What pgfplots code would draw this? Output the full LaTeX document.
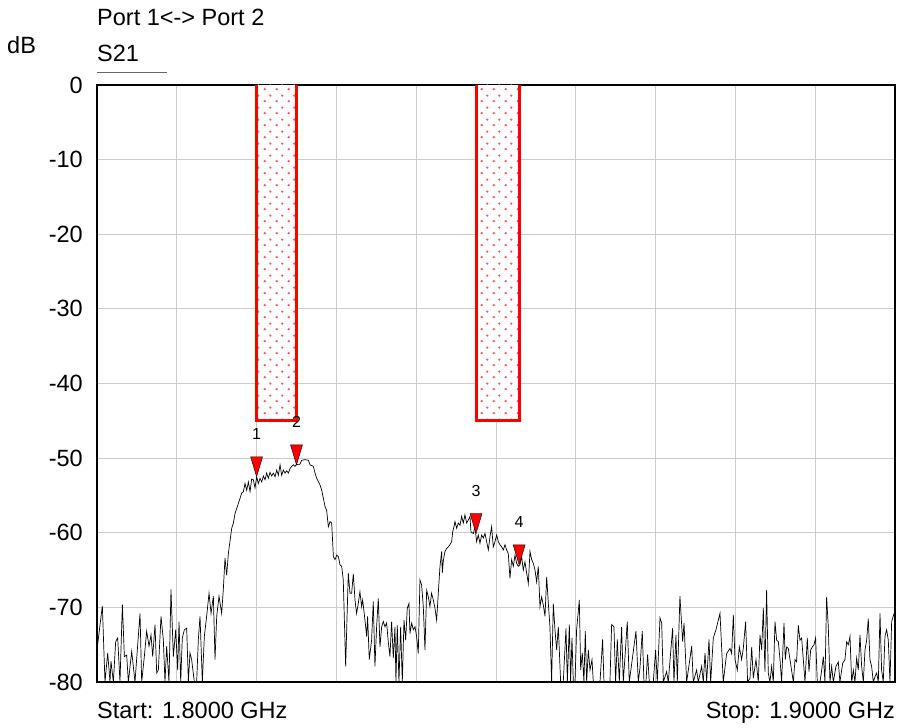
\documentclass[border=0pt]{standalone}
\usepackage{fontspec}
\setmainfont{Liberation Sans}
\usepackage{pgfplots}
\usepackage{pgfplotstable}
\pgfplotsset{compat=1.18}
\usetikzlibrary{patterns.meta}

\tikzdeclarepattern{
  name=reddots,
  type=uncolored,
  bounding box={(0pt,0pt) and (11.4pt,12pt)},
  tile size={(11.4pt,12pt)},
  code={
    \fill (2.85pt,3pt) circle (1.35pt);
    \fill (8.55pt,9pt) circle (1.35pt);
  }
}

\pgfdeclareplotmark{mkr}{%
  \pgfpathmoveto{\pgfqpoint{0pt}{0pt}}%
  \pgfpathlineto{\pgfqpoint{-6pt}{20pt}}%
  \pgfpathlineto{\pgfqpoint{6pt}{20pt}}%
  \pgfpathclose
  \pgfusepathqfillstroke}

\pgfplotstableread{
f db
1800.0 -75.7
1800.67 -69.8
1801.0 -80
1801.34 -76.1
1801.63 -80
1801.75 -77.2
1802.05 -80
1802.34 -74.6
1802.59 -74.1
1802.88 -80
1803.18 -69.6
1803.43 -76.6
1803.72 -76.4
1803.93 -80
1804.35 -75.9
1804.76 -80
1805.39 -70.8
1805.6 -80
1805.93 -76.6
1806.22 -73.2
1806.52 -75.2
1806.77 -73.7
1806.98 -76.6
1807.27 -72.3
1807.48 -78.8
1807.69 -78.4
1808.02 -71.2
1808.31 -74.3
1808.52 -80
1808.73 -75.2
1809.02 -80
1809.27 -67.6
1809.57 -76.6
1809.86 -73.0
1810.11 -78.4
1810.28 -71.9
1810.49 -80
1810.69 -74.1
1810.95 -73.0
1811.24 -72.8
1811.45 -80
1811.65 -76.1
1811.86 -77.0
1812.2 -80
1812.49 -80
1812.7 -74.3
1812.91 -71.2
1813.2 -80
1813.45 -73.9
1813.74 -71.2
1814.04 -68.1
1814.29 -70.8
1814.58 -68.5
1814.79 -77.0
1815.0 -71.2
1815.29 -68.5
1815.62 -70.8
1815.83 -67.6
1816.04 -63.4
1816.25 -65.7
1816.46 -62.8
1816.88 -59.4
1817.09 -58.7
1817.3 -57.4
1817.71 -56.1
1817.92 -55.4
1818.13 -54.7
1818.34 -54.5
1818.55 -53.4
1818.76 -54.3
1818.97 -53.2
1819.18 -54.5
1819.38 -52.8
1819.59 -52.9
1819.8 -54.0
1820.01 -52.5
1820.22 -53.4
1820.43 -52.7
1820.64 -53.2
1820.85 -52.4
1821.06 -52.9
1821.26 -52.0
1821.47 -52.7
1821.68 -51.9
1821.89 -52.4
1822.1 -52.0
1822.31 -52.5
1822.52 -51.6
1822.73 -52.3
1822.94 -50.9
1823.14 -52.3
1823.35 -51.6
1823.56 -52.0
1823.77 -51.7
1823.98 -52.0
1824.19 -51.4
1824.4 -51.1
1824.61 -50.9
1824.81 -51.1
1825.02 -50.8
1825.23 -50.9
1825.44 -50.8
1825.65 -50.3
1826.07 -50.2
1826.49 -50.3
1826.7 -50.9
1827.11 -51.1
1827.32 -52.0
1827.53 -52.7
1827.95 -53.6
1828.16 -54.3
1828.58 -56.5
1828.78 -57.0
1828.99 -59.2
1829.2 -58.5
1829.41 -58.7
1829.62 -63.2
1829.83 -63.6
1830.04 -63.0
1830.25 -63.2
1830.45 -64.3
1830.66 -64.5
1830.86 -66.3
1831.16 -77.9
1831.49 -65.4
1831.7 -68.1
1831.91 -68.1
1832.12 -65.5
1832.33 -69.0
1832.53 -70.8
1832.74 -69.5
1832.95 -67.9
1833.16 -69.9
1833.29 -69.0
1833.58 -71.7
1833.79 -73.9
1833.91 -71.2
1834.12 -77.0
1834.41 -74.4
1834.62 -69.2
1834.83 -77.9
1835.04 -72.6
1835.25 -68.8
1835.46 -75.3
1835.67 -72.6
1835.88 -71.9
1836.09 -72.6
1836.29 -72.1
1836.5 -74.6
1836.71 -76.6
1836.92 -71.9
1837.13 -76.8
1837.34 -72.6
1837.46 -80
1837.63 -72.4
1837.84 -80
1838.05 -72.6
1838.26 -80
1838.47 -71.7
1838.68 -74.4
1838.88 -70.1
1839.09 -69.5
1839.22 -73.5
1839.43 -72.1
1839.64 -73.0
1839.85 -72.6
1840.05 -73.9
1840.26 -76.2
1840.47 -66.3
1840.68 -67.0
1840.89 -69.9
1841.1 -75.7
1841.31 -67.7
1841.52 -68.6
1841.72 -69.9
1841.93 -68.1
1842.14 -69.0
1842.35 -70.1
1842.56 -71.7
1842.77 -68.1
1842.98 -64.5
1843.19 -62.5
1843.27 -65.4
1843.4 -63.7
1843.61 -62.5
1843.81 -62.1
1844.02 -61.9
1844.23 -61.6
1844.44 -61.2
1844.57 -59.9
1844.73 -59.2
1844.86 -58.5
1845.07 -59.4
1845.28 -58.7
1845.49 -59.0
1845.69 -57.8
1845.9 -58.7
1846.11 -57.6
1846.32 -58.7
1846.53 -58.3
1846.74 -57.8
1846.86 -59.9
1847.16 -60.1
1847.37 -59.2
1847.57 -61.2
1847.78 -60.3
1847.99 -61.4
1848.2 -60.3
1848.41 -60.7
1848.62 -60.1
1848.83 -61.2
1849.04 -62.3
1849.25 -60.5
1849.45 -59.2
1849.66 -61.9
1849.87 -61.2
1850.08 -60.3
1850.29 -61.2
1850.5 -61.6
1850.71 -61.9
1850.92 -62.3
1851.13 -61.6
1851.33 -62.3
1851.54 -62.8
1851.75 -66.1
1851.96 -63.6
1852.17 -64.5
1852.38 -63.0
1852.59 -64.1
1852.8 -64.5
1853.0 -64.3
1853.21 -63.2
1853.42 -65.0
1853.63 -63.9
1853.84 -65.4
1854.05 -66.8
1854.26 -62.5
1854.47 -63.6
1854.68 -64.1
1854.89 -65.0
1855.09 -66.6
1855.3 -64.5
1855.51 -69.9
1855.72 -68.6
1855.93 -69.7
1856.14 -71.2
1856.35 -65.9
1856.56 -69.5
1856.76 -72.6
1856.97 -80
1857.18 -69.5
1857.39 -73.0
1857.6 -75.7
1857.81 -72.6
1858.1 -80
1858.43 -80
1858.77 -72.8
1858.94 -80
1859.19 -72.3
1859.35 -80
1859.52 -74.1
1859.69 -80
1859.9 -80
1860.1 -73.0
1860.44 -69.0
1860.61 -78.4
1860.81 -76.1
1861.02 -80
1861.19 -73.2
1861.36 -80
1861.57 -75.7
1861.78 -78.4
1862.03 -77.0
1862.19 -80
1863.03 -80
1863.36 -74.3
1863.53 -80
1864.28 -80
1864.49 -72.3
1864.78 -72.6
1864.99 -80
1865.2 -74.3
1865.45 -80
1865.74 -72.6
1865.95 -80
1866.25 -75.2
1866.45 -71.9
1866.7 -80
1867.54 -73.2
1867.83 -80
1868.04 -78.1
1868.33 -73.2
1868.54 -80
1868.79 -80
1869.0 -76.3
1869.21 -80
1869.71 -80
1870.0 -75.7
1870.21 -80
1870.55 -71.4
1870.76 -72.1
1870.97 -80
1871.38 -78.6
1871.59 -80
1872.13 -72.8
1872.3 -80
1872.55 -73.7
1872.72 -80
1873.05 -68.5
1873.39 -74.6
1873.56 -72.1
1873.89 -80
1874.22 -77.5
1874.52 -75.2
1874.72 -80
1875.14 -78.4
1875.35 -80
1875.77 -77.9
1875.98 -80
1876.19 -76.1
1876.4 -80
1876.69 -74.3
1876.9 -80
1877.23 -74.1
1877.57 -73.0
1877.86 -71.7
1878.07 -70.8
1878.48 -80
1878.9 -76.2
1879.32 -75.5
1879.53 -76.2
1879.74 -71.0
1879.95 -77.0
1880.24 -78.4
1880.49 -75.3
1880.78 -77.0
1880.99 -75.5
1881.28 -71.9
1881.53 -80
1881.83 -79.5
1882.04 -75.3
1882.24 -79.5
1882.58 -77.0
1882.87 -80
1883.08 -73.7
1883.29 -75.7
1883.5 -70.1
1883.7 -78.6
1883.91 -67.7
1884.12 -78.8
1884.33 -80
1884.54 -77.9
1884.75 -80
1884.96 -71.9
1885.17 -74.4
1885.38 -74.6
1885.59 -77.0
1885.79 -80
1886.09 -72.1
1886.25 -77.0
1886.42 -75.3
1886.63 -75.5
1886.84 -77.0
1887.26 -80
1887.47 -77.0
1887.67 -77.3
1887.88 -72.4
1888.09 -74.4
1888.3 -74.1
1888.51 -77.0
1888.72 -80
1889.01 -74.1
1889.22 -78.6
1889.43 -75.7
1889.64 -75.3
1889.85 -75.0
1890.05 -74.1
1890.26 -80
1890.6 -80
1890.81 -78.4
1891.02 -76.6
1891.22 -80
1891.43 -68.6
1891.64 -72.6
1891.85 -80
1892.06 -77.9
1892.27 -80
1892.6 -77.9
1892.89 -77.3
1893.1 -80
1893.44 -77.5
1893.73 -77.0
1893.94 -74.6
1894.15 -75.0
1894.36 -73.9
1894.57 -80
1894.78 -78.4
1894.98 -80
1895.19 -76.8
1895.4 -78.4
1895.61 -73.7
1895.82 -77.9
1896.03 -80
1896.24 -75.7
1896.45 -74.4
1896.65 -71.5
1896.86 -77.0
1897.07 -77.9
1897.28 -80
1897.49 -79.3
1897.7 -78.8
1897.91 -80
1898.12 -70.8
1898.32 -78.4
1898.53 -80
1898.74 -73.9
1898.95 -73.0
1899.16 -74.4
1899.37 -80
1899.58 -71.9
1900.0 -70.4
}\trace

\pgfplotstableread{
x y lab
1820.0 -52.5 1
1825.0 -50.9 2
1847.5 -60.1 3
1852.9 -64.3 4
}\markers

\begin{document}
\begin{tikzpicture}
\useasboundingbox (-97pt,-46pt) rectangle (800pt,682pt);
\begin{axis}[
  at={(0pt,0pt)}, anchor=south west,
  scale only axis, width=798pt, height=597pt,
  xmin=1800, xmax=1900, ymin=-80, ymax=0,
  xtick={1800,1810,...,1900}, xticklabels={},
  ytick={-80,-70,...,0},
  yticklabels={-80,-70,-60,-50,-40,-30,-20,-10,0},
  major tick length=0pt,
  grid=major,
  grid style={draw=black!20, line width=1pt},
  axis line style={line width=1.6pt},
  yticklabel style={font=\fontsize{23.5}{28}\selectfont, inner sep=0pt, xshift=-14pt},
]
\addplot[draw=none, fill=white, mark=none]
  coordinates {(1820,0) (1820,-45) (1825,-45) (1825,0)};
\addplot[draw=red, line width=3pt, mark=none, pattern=reddots, pattern color=red!65]
  coordinates {(1820,0) (1820,-45) (1825,-45) (1825,0)};
\addplot[draw=none, fill=white, mark=none]
  coordinates {(1847.5,0) (1847.5,-45) (1852.9,-45) (1852.9,0)};
\addplot[draw=red, line width=3pt, mark=none, pattern=reddots, pattern color=red!65]
  coordinates {(1847.5,0) (1847.5,-45) (1852.9,-45) (1852.9,0)};
\addplot[black, line width=0.7pt, mark=none] table[x=f, y=db] {\trace};
\addplot[only marks, mark=mkr, mark options={fill=red, draw=black, line width=0.4pt},
  nodes near coords, point meta=explicit symbolic,
  nodes near coords style={anchor=center, yshift=43pt, font=\fontsize{16}{16}\selectfont, text=black}]
  table[x=x, y=y, meta=lab] {\markers};
\end{axis}
\node[anchor=base west, inner sep=0pt, font=\fontsize{23.5}{28}\selectfont] at (0pt,656pt) {Port 1<-> Port 2};
\node[anchor=base west, inner sep=0pt, font=\fontsize{23.5}{28}\selectfont] at (-90pt,628.7pt) {dB};
\node[anchor=base west, inner sep=0pt, font=\fontsize{23.5}{28}\selectfont] at (0pt,620.3pt) {S21};
\draw[black!60, line width=1pt] (0pt,609.7pt) -- (70pt,609.7pt);
\node[anchor=base west, inner sep=0pt, font=\fontsize{23.5}{28}\selectfont] at (0pt,-37pt) {Start: 1.8000 GHz};
\node[anchor=base east, inner sep=0pt, font=\fontsize{23.5}{28}\selectfont] at (798pt,-37pt) {Stop: 1.9000 GHz};
\end{tikzpicture}
\end{document}
